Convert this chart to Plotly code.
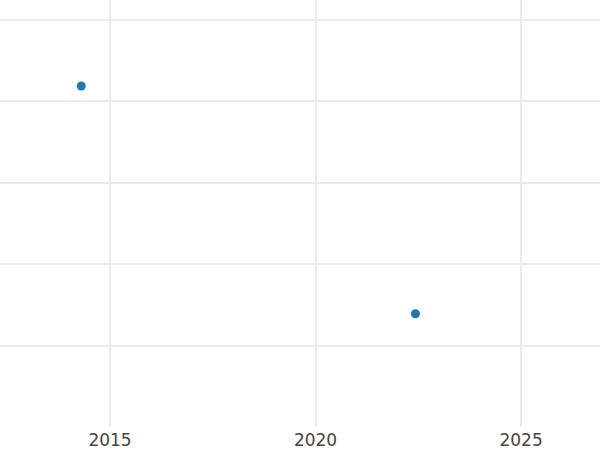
import plotly.graph_objects as go

years = [2014.3, 2022.43]
values = [4.185, 1.39]

fig = go.Figure()
fig.add_trace(go.Scatter(x=years, y=values, mode="markers",
                         marker=dict(size=9, color="#1f77b4")))
fig.update_layout(
    width=600, height=450,
    margin=dict(l=0, r=0, t=0, b=23),
    paper_bgcolor="white", plot_bgcolor="white",
    showlegend=False,
    font=dict(family="DejaVu Sans", size=17, color="#444"),
)
fig.update_xaxes(range=[2012.324, 2026.92], tickvals=[2015, 2020, 2025],
                 showgrid=True, gridcolor="#ebebeb", gridwidth=2,
                 zeroline=False, showline=False, ticks="", ticklabelstandoff=1)
fig.update_yaxes(range=[0, 5.24], dtick=1, showticklabels=False,
                 showgrid=True, gridcolor="#ebebeb", gridwidth=1.5,
                 zeroline=False, showline=False)
fig.write_html("out.html",
               config={"displayModeBar": False},
               post_script="document.body.style.margin='0';document.body.style.overflow='hidden';")
